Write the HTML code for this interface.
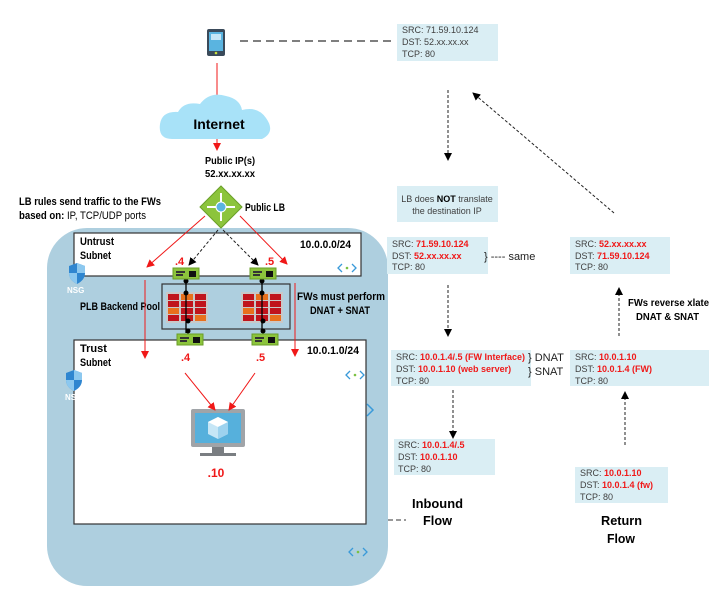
<!DOCTYPE html>
<html><head><meta charset="utf-8"><style>
html,body{margin:0;padding:0;background:#fff;}
svg{display:block;font-family:"Liberation Sans",sans-serif;}
.b{font-weight:bold;}
.t{font-size:9px;fill:#404040;}
.r{fill:#f01818;font-weight:bold;}
</style></head><body>
<svg width="723" height="595" viewBox="0 0 723 595" xmlns="http://www.w3.org/2000/svg">
<defs>
<marker id="ar" markerWidth="8" markerHeight="8" refX="7" refY="4" orient="auto" markerUnits="userSpaceOnUse"><path d="M0,0 L8,4 L0,8 z" fill="#f01818"/></marker>
<marker id="ak" markerWidth="8" markerHeight="8" refX="7" refY="4" orient="auto" markerUnits="userSpaceOnUse"><path d="M0,0 L8,4 L0,8 z" fill="#000"/></marker>
<g id="nic"><rect x="0" y="0" width="26" height="11" fill="#8cc43c" stroke="#6a9e28"/><rect x="3" y="3" width="9" height="2" fill="#333"/><rect x="3" y="6" width="7" height="2" fill="#333"/><rect x="16" y="3" width="7" height="6" fill="#111"/></g>
<g id="fw"><rect x="0" y="0" width="42" height="31" fill="#c8c8c8"/>
<g fill="#c0141c"><rect x="2" y="2" width="11" height="6"/><rect x="29" y="2" width="11" height="6"/><rect x="2" y="9" width="11" height="6"/><rect x="15" y="9" width="12" height="6"/><rect x="29" y="9" width="11" height="6"/><rect x="15" y="16" width="12" height="6"/><rect x="29" y="16" width="11" height="6"/><rect x="2" y="23" width="11" height="6"/><rect x="15" y="23" width="12" height="6"/></g>
<g fill="#e8701c"><rect x="15" y="2" width="12" height="6"/><rect x="2" y="16" width="11" height="6"/><rect x="29" y="23" width="11" height="6"/></g></g>
<g id="sub"><path d="M4,0 L0,4 L4,8 M14,0 L18,4 L14,8" fill="none" stroke="#3a9ad9" stroke-width="1.3"/><circle cx="9" cy="4" r="1.3" fill="#7ac143"/></g>
<g id="nsg"><path d="M8,0 L16,3 L16,10 Q16,17 8,21 Q0,17 0,10 L0,3 z" fill="#2f86d0"/><path d="M8,0 L16,3 L16,10 L8,10 z M8,10 L8,21 Q0,17 0,10 z" fill="#8cc8ef"/></g>
</defs>

<rect x="47" y="228" width="341" height="358" rx="40" fill="#aecfdf"/>
<rect x="74" y="233" width="287" height="43" fill="#fff" stroke="#333" stroke-width="1.2"/>
<rect x="74" y="340" width="292" height="184" fill="#fff" stroke="#333" stroke-width="1.2"/>
<rect x="162" y="284" width="128" height="45" fill="#aecfdf" stroke="#333" stroke-width="1.2"/>

<text x="80" y="245" font-size="11" class="b" textLength="34" lengthAdjust="spacingAndGlyphs">Untrust</text>
<text x="80" y="259" font-size="11" class="b" textLength="31" lengthAdjust="spacingAndGlyphs">Subnet</text>
<text x="300" y="248" font-size="11" class="b" textLength="51" lengthAdjust="spacingAndGlyphs">10.0.0.0/24</text>
<text x="80" y="352" font-size="11" class="b" textLength="27" lengthAdjust="spacingAndGlyphs">Trust</text>
<text x="80" y="366" font-size="11" class="b" textLength="31" lengthAdjust="spacingAndGlyphs">Subnet</text>
<text x="307" y="354" font-size="11" class="b" textLength="52" lengthAdjust="spacingAndGlyphs">10.0.1.0/24</text>
<text x="80" y="310" font-size="11" class="b" textLength="80" lengthAdjust="spacingAndGlyphs">PLB Backend Pool</text>
<text x="297" y="300" font-size="11" class="b" textLength="88" lengthAdjust="spacingAndGlyphs">FWs must perform</text>
<text x="310" y="314" font-size="11" class="b" textLength="60" lengthAdjust="spacingAndGlyphs">DNAT + SNAT</text>

<use href="#nsg" x="69" y="263"/>
<text x="67" y="293" font-size="8" fill="#fff" class="b">NSG</text>
<use href="#nsg" x="66" y="370"/>
<text x="65" y="400" font-size="8" fill="#fff" class="b">NS</text>
<use href="#sub" x="338" y="264"/>
<use href="#sub" x="346" y="371"/>
<use href="#sub" x="349" y="548"/>
<path d="M367,404 L373,410 L367,416" fill="none" stroke="#3a9ad9" stroke-width="1.5"/>

<use href="#fw" x="166" y="292"/>
<use href="#fw" x="241" y="292"/>
<g stroke="#000" stroke-width="1.3"><line x1="186" y1="279" x2="186" y2="333"/><line x1="262" y1="279" x2="262" y2="333"/></g>
<g fill="#000"><circle cx="186" cy="281" r="2.5"/><circle cx="186" cy="293" r="2.5"/><circle cx="188" cy="321" r="2.5"/><circle cx="188" cy="331" r="2.5"/><circle cx="262" cy="281" r="2.5"/><circle cx="262" cy="293" r="2.5"/><circle cx="263" cy="321" r="2.5"/><circle cx="263" cy="331" r="2.5"/></g>
<use href="#nic" x="173" y="268"/>
<use href="#nic" x="250" y="268"/>
<use href="#nic" x="177" y="334"/>
<use href="#nic" x="252" y="334"/>
<text x="175" y="265" font-size="11" class="r">.4</text>
<text x="265" y="265" font-size="11" class="r">.5</text>
<text x="181" y="361" font-size="11" class="r">.4</text>
<text x="256" y="361" font-size="11" class="r">.5</text>

<rect x="191" y="409" width="54" height="38" rx="2" fill="#a0a4a8"/>
<rect x="195" y="413" width="46" height="30" fill="#56b0dc"/>
<path d="M218,417 L228,422 L228,434 L218,439 L208,434 L208,422 z" fill="#c6e6f6"/><path d="M218,417 L228,422 L218,427 L208,422 z" fill="#fff"/><path d="M218,427 L228,422 L228,434 L218,439 z" fill="#9dd2ee"/>
<rect x="212" y="447" width="12" height="6" fill="#7a7e82"/><rect x="200" y="453" width="36" height="3" fill="#7a7e82"/>
<text x="216" y="477" font-size="12" text-anchor="middle" class="r">.10</text>

<g stroke="#f01818" stroke-width="1" fill="none" marker-end="url(#ar)">
<line x1="217" y1="63" x2="217" y2="150"/>
<line x1="205" y1="216" x2="147" y2="267"/>
<line x1="240" y1="216" x2="287" y2="264"/>
<line x1="145" y1="280" x2="145" y2="358"/>
<line x1="295" y1="283" x2="295" y2="356"/>
<line x1="185" y1="373" x2="215" y2="410"/>
<line x1="255" y1="373" x2="229" y2="410"/>
</g>
<g stroke="#222" stroke-width="1" stroke-dasharray="3,2" fill="none" marker-end="url(#ak)">
<line x1="218" y1="230" x2="189" y2="265"/>
<line x1="223" y1="230" x2="258" y2="265"/>
</g>

<path d="M221,186 L242,207 L221,228 L200,207 z" fill="#8cc43c" stroke="#6aa028"/>
<g stroke="#fff" stroke-width="2"><line x1="207" y1="207" x2="235" y2="207"/><line x1="221" y1="193" x2="221" y2="221"/></g>
<circle cx="221" cy="207" r="5" fill="#5ab4e0" stroke="#fff"/>
<text x="245" y="211" font-size="11" class="b" textLength="40" lengthAdjust="spacingAndGlyphs">Public LB</text>
<text x="19" y="205" font-size="11" class="b" textLength="142" lengthAdjust="spacingAndGlyphs">LB rules send traffic to the FWs</text>
<text x="19" y="219" font-size="11" textLength="127" lengthAdjust="spacingAndGlyphs"><tspan class="b">based on:</tspan> IP, TCP/UDP ports</text>

<rect x="207" y="29" width="18" height="27" rx="2" fill="#3a4a5a"/>
<rect x="209" y="32" width="14" height="19" fill="#5ab4e0"/>
<rect x="211" y="34" width="10" height="6" fill="#c6e6f6"/>
<circle cx="216" cy="53" r="1.3" fill="#c8e03c"/>
<line x1="240" y1="41" x2="393" y2="41" stroke="#555" stroke-width="1.5" stroke-dasharray="8,5"/>

<path d="M172,139 Q158,139 160,124 Q162,111 178,112 Q184,101 200,104 Q210,91 226,96 Q240,99 242,110 Q258,106 266,118 Q276,132 262,139 z" fill="#a8e2f8"/>
<text x="219" y="129" font-size="14" text-anchor="middle" class="b">Internet</text>
<text x="205" y="164" font-size="10" class="b" textLength="50" lengthAdjust="spacingAndGlyphs">Public IP(s)</text>
<text x="205" y="177" font-size="10" class="b" textLength="50" lengthAdjust="spacingAndGlyphs">52.xx.xx.xx</text>

<g fill="#daeef4">
<rect x="397" y="24" width="101" height="37"/>
<rect x="397" y="186" width="101" height="36"/>
<rect x="387" y="237" width="101" height="37"/>
<rect x="570" y="237" width="100" height="37"/>
<rect x="391" y="350" width="140" height="36"/>
<rect x="570" y="350" width="139" height="36"/>
<rect x="394" y="439" width="101" height="36"/>
<rect x="575" y="467" width="93" height="36"/>
</g>
<g class="t">
<text x="402" y="33">SRC: 71.59.10.124</text><text x="402" y="45">DST: 52.xx.xx.xx</text><text x="402" y="57">TCP: 80</text>
<text x="447" y="202" text-anchor="middle">LB does <tspan class="b" fill="#000">NOT</tspan> translate</text><text x="447" y="214" text-anchor="middle">the destination IP</text>
<text x="392" y="247">SRC: <tspan class="r">71.59.10.124</tspan></text><text x="392" y="259">DST: <tspan class="r">52.xx.xx.xx</tspan></text><text x="392" y="270">TCP: 80</text>
<text x="575" y="247">SRC: <tspan class="r">52.xx.xx.xx</tspan></text><text x="575" y="259">DST: <tspan class="r">71.59.10.124</tspan></text><text x="575" y="270">TCP: 80</text>
<text x="396" y="360">SRC: <tspan class="r">10.0.1.4/.5 (FW Interface)</tspan></text><text x="396" y="372">DST: <tspan class="r">10.0.1.10 (web server)</tspan></text><text x="396" y="384">TCP: 80</text>
<text x="575" y="360">SRC: <tspan class="r">10.0.1.10</tspan></text><text x="575" y="372">DST: <tspan class="r">10.0.1.4 (FW)</tspan></text><text x="575" y="384">TCP: 80</text>
<text x="398" y="448">SRC: <tspan class="r">10.0.1.4/.5</tspan></text><text x="398" y="460">DST: <tspan class="r">10.0.1.10</tspan></text><text x="398" y="472">TCP: 80</text>
<text x="580" y="476">SRC: <tspan class="r">10.0.1.10</tspan></text><text x="580" y="488">DST: <tspan class="r">10.0.1.4 (fw)</tspan></text><text x="580" y="500">TCP: 80</text>
</g>
<text x="484" y="260" font-size="11" fill="#222">} ---- same</text>
<text x="528" y="361" font-size="11" fill="#222">} DNAT</text>
<text x="528" y="375" font-size="11" fill="#222">} SNAT</text>
<text x="628" y="306" font-size="10" class="b" textLength="81" lengthAdjust="spacingAndGlyphs">FWs reverse xlate</text>
<text x="636" y="320" font-size="10" class="b" textLength="63" lengthAdjust="spacingAndGlyphs">DNAT &amp; SNAT</text>
<text x="412" y="508" font-size="13" class="b" textLength="51" lengthAdjust="spacingAndGlyphs">Inbound</text>
<text x="423" y="525" font-size="13" class="b" textLength="29" lengthAdjust="spacingAndGlyphs">Flow</text>
<text x="601" y="525" font-size="13" class="b" textLength="41" lengthAdjust="spacingAndGlyphs">Return</text>
<text x="607" y="543" font-size="13" class="b" textLength="28" lengthAdjust="spacingAndGlyphs">Flow</text>
<line x1="388" y1="520" x2="406" y2="520" stroke="#333" stroke-dasharray="5,3"/>

<g stroke="#222" stroke-width="1" stroke-dasharray="3,2" fill="none" marker-end="url(#ak)">
<line x1="448" y1="90" x2="448" y2="160"/>
<line x1="614" y1="213" x2="473" y2="93"/>
<line x1="448" y1="285" x2="448" y2="336"/>
<line x1="619" y1="336" x2="619" y2="288"/>
<line x1="453" y1="390" x2="453" y2="438"/>
<line x1="625" y1="445" x2="625" y2="392"/>
</g>
</svg>
</body></html>
